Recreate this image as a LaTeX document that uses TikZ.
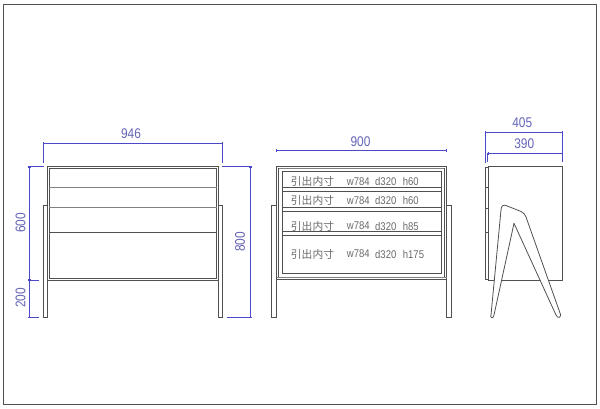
\documentclass[tikz,border=0pt]{standalone}
\usepackage{fontspec}
\setmainfont{Liberation Sans}
\newfontfamily\cjk{Noto Sans CJK JP}[FakeStretch=1.0]
\newfontfamily\narrowfont{Liberation Sans}[FakeStretch=0.85]
\usetikzlibrary{arrows.meta}
\definecolor{dimblue}{HTML}{4A4AC8}
\definecolor{dimtext}{HTML}{6464B8}
\definecolor{linegray}{HTML}{505050}
\definecolor{lightgray}{HTML}{808080}
\tikzset{
    part/.style={draw=linegray,line width=0.8pt},
    softpart/.style={draw=lightgray,line width=1pt},
    dimline/.style={draw=dimblue,line width=0.7pt},
    dimends/.style={dimline,{Bar[width=2.5pt,length=0.8pt]}-{Bar[width=2.5pt,length=0.8pt]}},
    dimlabel/.style={text=dimtext,font=\narrowfont\fontsize{14}{14}\selectfont,inner sep=0pt},
    sizelabel/.style={text=linegray!85,font=\narrowfont\fontsize{11.2}{11}\selectfont,inner sep=0pt,anchor=west}
}
\begin{document}
\begin{tikzpicture}[x=1pt,y=-1pt]
    \useasboundingbox (0,0) rectangle (600,408);
    \fill[white] (0,0) rectangle (600,408);
    \draw[part] (3.5,4) rectangle (596.5,404);

    % front view, closed
    \draw[part] (43.3,205.3) rectangle (47.5,317.7);
    \draw[part] (218.5,205.3) rectangle (222.5,317.7);
    \draw[part,fill=white] (47.5,166.7) rectangle (218.7,280.3);
    \draw[part] (49.3,168.5) rectangle (216.7,278.3);
    \draw[softpart] (49.3,187.7)--(216.7,187.7);
    \draw[softpart] (49.3,207.7)--(216.7,207.7);
    \draw[part] (49.3,232.7)--(216.7,232.7);

    % front view, drawer sizes
    \draw[part] (271.7,205.3) rectangle (276.5,317.7);
    \draw[part] (446.5,205.3) rectangle (451,317.7);
    \draw[part,fill=white] (276.7,166) rectangle (446.7,279);
    \draw[softpart] (278.7,168.3)--(444.7,168.3);
    \draw[softpart] (276.7,277.8)--(446.7,277.8);
    \draw[part] (278.7,168.3)--(278.7,277);
    \draw[part] (444.7,168.3)--(444.7,277);
    \draw[part] (282,171) rectangle (441.7,273.7);
    \foreach \liney in {187.3,191.3,207.3,211.3,231.7,235.3}
        \draw[part] (282,\liney)--(441.7,\liney);

    \foreach \rowname/\rowy/\rowh in {a/181.7/h60,b/200.7/h60,c/226/h85,d/254/h175}{
        \node[sizelabel,font=\cjk\fontsize{10.8}{11}\selectfont] (jp\rowname) at (290.7,\rowy) {引出内寸};
        \node[sizelabel] (w\rowname) at (346.7,\rowy) {w784};
        \node[sizelabel] (d\rowname) at (375,\rowy) {d320};
        \node[sizelabel] (h\rowname) at (402.7,\rowy) {\rowh};
    }

    % side view
    \draw[part] (488.3,166) rectangle (562.3,280.3);
    \draw[part] (485.3,167.3) rectangle (488.3,279);
    \foreach \liney in {187.7,208,232}
        \draw[part] (485.3,\liney)--(488.3,\liney);
    \draw[part,fill=white,line join=round] (491.7,317.7)
        .. controls (490.5,317) and (490.5,316) .. (491,315)
        -- (501,210)
        .. controls (501.3,206) and (503,204.5) .. (506,205.5)
        -- (521,211.5)
        .. controls (524,213) and (525,214.5) .. (526,217)
        -- (560.7,315)
        .. controls (561,317.5) and (558.5,318) .. (557.5,317)
        -- (556,315)
        -- (514,223.3)
        -- (494,315)
        .. controls (493.7,317) and (492.7,318) .. (491.7,317.7)
        -- cycle;

    % dimensions
    \draw[dimends] (43.3,143.3)--(222.5,143.3);
    \draw[dimline] (43.3,143.3)--(43.3,162.7);
    \draw[dimline] (222.5,143.3)--(222.5,162.7);
    \node[dimlabel] (widthfront) at (131,133.5) {946};

    \draw[dimends] (29.3,166.7)--(29.3,280);
    \draw[dimends] (29.3,280)--(29.3,317.7);
    \draw[dimline] (27.7,166.7)--(44,166.7);
    \draw[dimline] (27.7,280)--(39,280);
    \draw[dimline] (27.7,317.7)--(39,317.7);
    \node[dimlabel,rotate=90] (heightbody) at (20.5,223) {600};
    \node[dimlabel,rotate=90] (heightleg) at (20.5,298) {200};

    \draw[dimends] (250,166.7)--(250,317.7);
    \draw[dimline] (221.7,166.7)--(251.7,166.7);
    \draw[dimline] (226.7,317.7)--(251.7,317.7);
    \node[dimlabel,rotate=90] (heightall) at (240,242) {800};

    \draw[dimends] (276.3,150.7)--(447,150.7);
    \node[dimlabel] (widthdrawer) at (360.5,141.3) {900};

    \draw[dimends] (485.3,132.3)--(562.5,132.3);
    \draw[dimline] (485.3,132.3)--(485.3,163);
    \draw[dimline] (562.5,132.3)--(562.5,162);
    \node[dimlabel] (depthall) at (522.3,122.3) {405};
    \draw[dimends] (487.7,153)--(562.5,153);
    \draw[dimline] (487.7,153)--(487.7,162);
    \node[dimlabel] (depthbody) at (524.3,143.3) {390};
\end{tikzpicture}
\end{document}
